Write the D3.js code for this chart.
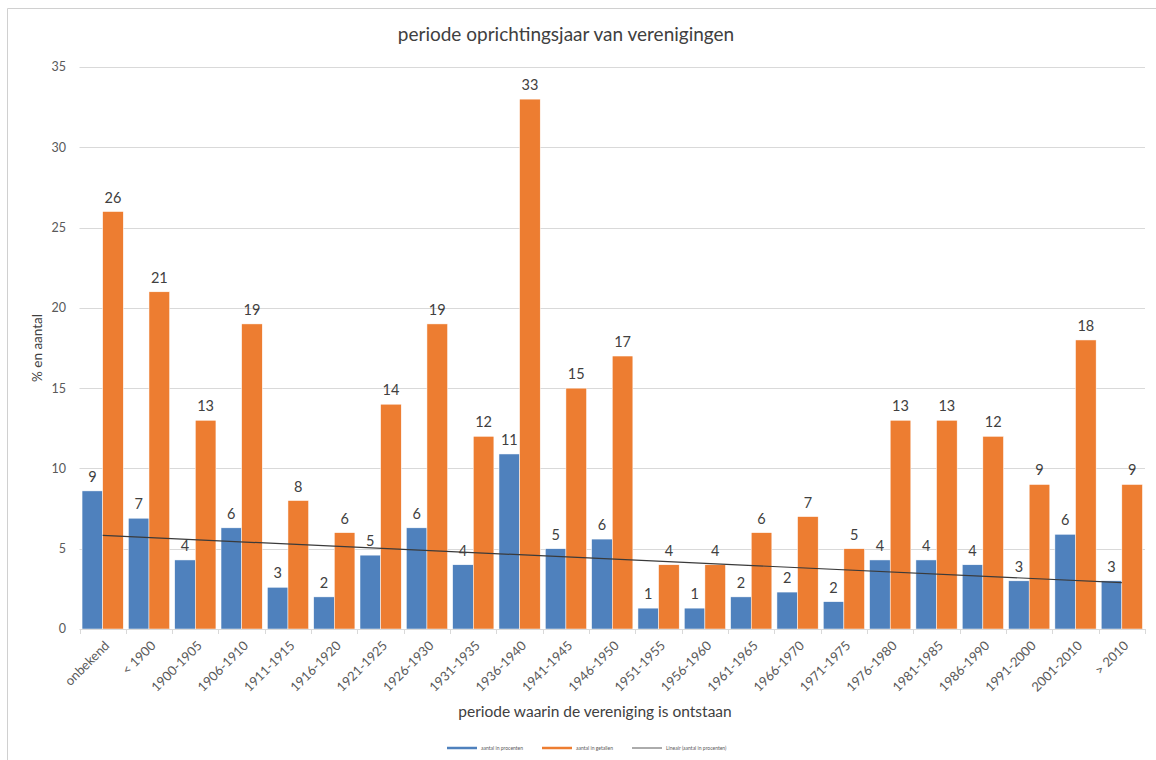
<!DOCTYPE html>
<html>
<head>
<meta charset="utf-8">
<script src="https://cdn.jsdelivr.net/npm/d3@7"></script>
<style>
    body { margin: 0; background: #fff; }
    svg { display: block; font-family: Lato, "Noto Sans", sans-serif; }
</style>
</head>
<body>
<svg id="chart" width="1156" height="760"></svg>
<script>
var categories = ['onbekend', '< 1900', '1900-1905', '1906-1910', '1911-1915', '1916-1920',
    '1921-1925', '1926-1930', '1931-1935', '1936-1940', '1941-1945', '1946-1950',
    '1951-1955', '1956-1960', '1961-1965', '1966-1970', '1971-1975', '1976-1980',
    '1981-1985', '1986-1990', '1991-2000', '2001-2010', '> 2010'];

// aantal in procenten
var procenten = [8.6, 6.9, 4.3, 6.3, 2.6, 2.0, 4.6, 6.3, 4.0, 10.9, 5.0, 5.6,
    1.3, 1.3, 2.0, 2.3, 1.7, 4.3, 4.3, 4.0, 3.0, 5.9, 3.0];

// aantal in getallen
var getallen = [26, 21, 13, 19, 8, 6, 14, 19, 12, 33, 15, 17,
    4, 4, 6, 7, 5, 13, 13, 12, 9, 18, 9];

var yTicks = [0, 5, 10, 15, 20, 25, 30, 35];

var legendNames = ['aantal in procenten', 'aantal in getallen', 'Lineair (aantal in procenten)'];

function Chart(svg) {
    this.svg = svg;
    this.opts = {
        left: 79.5,
        right: 1145,
        top: 67,
        bottom: 629,
        blue: '#4f81bd',
        orange: '#ed7d31',
        gridColor: '#d9d9d9',
        textColor: '#595959',
        labelColor: '#404040'
    };
}

Chart.prototype = {
    init: function () {
        var o = this.opts;
        this.x = d3.scaleBand()
            .domain(categories)
            .range([o.left, o.right])
            .paddingInner(0.11)
            .paddingOuter(0.055);
        this.xs = d3.scaleBand()
            .domain([0, 1])
            .range([0, this.x.bandwidth()]);
        this.y = d3.scaleLinear()
            .domain([0, 35])
            .range([o.bottom, o.top]);
        this.renderFrame();
        this.renderGrid();
        this.renderBars();
        this.renderTrend();
        this.renderLabels();
        this.renderXAxis();
        this.renderTitles();
        this.renderLegend();
    },

    // rand links en boven
    renderFrame: function () {
        this.svg.append('path')
            .attr('d', 'M7.5,760 L7.5,8.5 L1156,8.5')
            .attr('stroke', '#d0d0d0')
            .attr('fill', 'none');
    },

    renderGrid: function () {
        var o = this.opts, y = this.y;
        var g = this.svg.append('g');
        g.selectAll('line')
            .data(yTicks.slice(1))
            .enter()
            .append('line')
            .attr('x1', o.left)
            .attr('x2', o.right)
            .attr('y1', function (d) { return Math.round(y(d)) + 0.5; })
            .attr('y2', function (d) { return Math.round(y(d)) + 0.5; })
            .attr('stroke', o.gridColor);
        g.selectAll('text')
            .data(yTicks)
            .enter()
            .append('text')
            .attr('x', 66)
            .attr('y', function (d) { return y(d); })
            .attr('dy', '0.35em')
            .attr('text-anchor', 'end')
            .attr('font-size', 12.5)
            .attr('fill', o.textColor)
            .text(function (d) { return d; });
    },

    renderBars: function () {
        var me = this, o = this.opts;
        var series = [procenten, getallen];
        var colors = [o.blue, o.orange];
        series.forEach(function (vals, s) {
            me.svg.append('g')
                .selectAll('rect')
                .data(vals)
                .enter()
                .append('rect')
                .attr('x', function (d, i) { return me.x(categories[i]) + me.xs(s); })
                .attr('width', me.xs.bandwidth())
                .attr('y', function (d) { return me.y(d); })
                .attr('height', function (d) { return me.y(0) - me.y(d); })
                .attr('fill', colors[s])
                .attr('stroke', '#fff')
                .attr('stroke-width', 0.5);
        });
    },

    // lineaire trendlijn (kleinste kwadraten) over de procenten
    renderTrend: function () {
        var n = procenten.length;
        var mx = (n + 1) / 2;
        var my = d3.mean(procenten);
        var sxy = 0, sxx = 0;
        procenten.forEach(function (v, i) {
            sxy += (i + 1 - mx) * (v - my);
            sxx += (i + 1 - mx) * (i + 1 - mx);
        });
        var slope = sxy / sxx;
        var me = this;
        var pts = [0, n - 1].map(function (i) {
            return [me.x(categories[i]) + me.x.bandwidth() / 2, me.y(my + slope * (i + 1 - mx))];
        });
        this.svg.append('path')
            .attr('d', d3.line()(pts))
            .attr('stroke', '#3a3a3a')
            .attr('stroke-width', 1.2)
            .attr('fill', 'none');
    },

    renderLabels: function () {
        var me = this, o = this.opts;
        var series = [procenten, getallen];
        series.forEach(function (vals, s) {
            me.svg.append('g')
                .selectAll('text')
                .data(vals)
                .enter()
                .append('text')
                .attr('x', function (d, i) { return me.x(categories[i]) + me.xs(s) + me.xs.bandwidth() / 2; })
                .attr('y', function (d) { return me.y(d) - 9; })
                .attr('text-anchor', 'middle')
                .attr('font-size', 14.5)
                .attr('fill', o.labelColor)
                .text(function (d) { return Math.round(d); });
        });
    },

    renderXAxis: function () {
        var me = this, o = this.opts;
        var g = this.svg.append('g');
        g.append('line')
            .attr('x1', o.left)
            .attr('x2', o.right)
            .attr('y1', o.bottom + 0.5)
            .attr('y2', o.bottom + 0.5)
            .attr('stroke', o.gridColor);
        var step = this.x.step();
        var bounds = d3.range(categories.length + 1).map(function (i) { return o.left + i * step; });
        g.selectAll('.tick')
            .data(bounds)
            .enter()
            .append('line')
            .attr('class', 'tick')
            .attr('x1', function (d) { return Math.round(d) + 0.5; })
            .attr('x2', function (d) { return Math.round(d) + 0.5; })
            .attr('y1', o.bottom)
            .attr('y2', o.bottom + 5)
            .attr('stroke', o.gridColor);
        g.selectAll('.cat')
            .data(categories)
            .enter()
            .append('text')
            .attr('class', 'cat')
            .attr('transform', function (d) {
                return 'translate(' + (me.x(d) + me.x.bandwidth() / 2 + 1) + ',' + (o.bottom + 11) + ') rotate(-45)';
            })
            .attr('dy', '0.71em')
            .attr('text-anchor', 'end')
            .attr('font-size', 13)
            .attr('fill', o.textColor)
            .text(function (d) { return d; });
    },

    renderTitles: function () {
        var o = this.opts;
        this.svg.append('text')
            .attr('x', 566)
            .attr('y', 41)
            .attr('text-anchor', 'middle')
            .attr('font-size', 19)
            .attr('fill', o.labelColor)
            .text('periode oprichtingsjaar van verenigingen');
        this.svg.append('text')
            .attr('transform', 'translate(42,' + ((o.top + o.bottom) / 2) + ') rotate(-90)')
            .attr('text-anchor', 'middle')
            .attr('font-size', 13.5)
            .attr('fill', o.labelColor)
            .text('% en aantal');
        this.svg.append('text')
            .attr('x', 595)
            .attr('y', 717)
            .attr('text-anchor', 'middle')
            .attr('font-size', 15.5)
            .attr('fill', o.labelColor)
            .text('periode waarin de vereniging is ontstaan');
    },

    renderLegend: function () {
        var o = this.opts;
        var items = [
            {name: legendNames[0], color: o.blue, x: 447, w: 2.5},
            {name: legendNames[1], color: o.orange, x: 542, w: 2.5},
            {name: legendNames[2], color: '#595959', x: 632, w: 1}
        ];
        var g = this.svg.append('g');
        items.forEach(function (it) {
            g.append('line')
                .attr('x1', it.x)
                .attr('x2', it.x + 30)
                .attr('y1', 748)
                .attr('y2', 748)
                .attr('stroke', it.color)
                .attr('stroke-width', it.w);
            g.append('text')
                .attr('x', it.x + 34)
                .attr('y', 748)
                .attr('dy', '0.35em')
                .attr('font-size', 5)
                .attr('fill', o.textColor)
                .text(it.name);
        });
    }
};

var chart = new Chart(d3.select('#chart'));
chart.init();
</script>
</body>
</html>
